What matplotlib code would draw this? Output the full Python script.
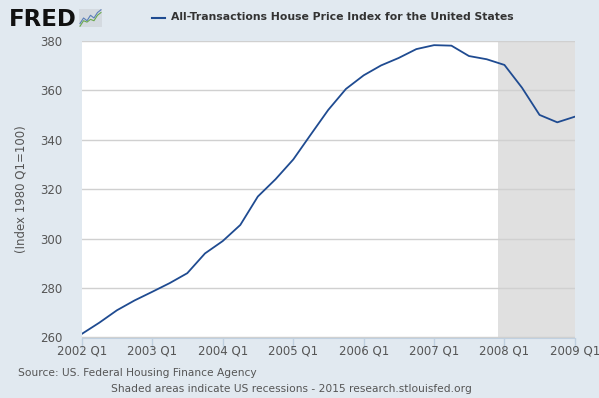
"""FRED-style chart: All-Transactions House Price Index for the United States, 2002-2009."""
import matplotlib

matplotlib.use("Agg")
import matplotlib.pyplot as plt
import pandas as pd

# quarterly index values (1980 Q1 = 100)
quarters = pd.date_range("2002-01-01", "2009-01-01", freq="QS")
hpi = [261.5, 266.0, 271.0, 275.0, 278.5, 282.0, 286.0, 294.0,
       299.0, 305.5, 317.0, 324.0, 332.0, 342.0, 352.0, 360.5,
       366.0, 370.0, 373.0, 376.6, 378.2, 378.0, 373.8, 372.5,
       370.2, 361.0, 350.0, 347.0, 349.3]
recession = ("2007-12-01", "2009-06-01")
y_ticks = [260, 280, 300, 320, 340, 360, 380]
x_years = list(range(2002, 2010))

# little logo sparkline next to the FRED wordmark
icon_blue = [1, 3, 2, 4, 3, 5, 6]
icon_green = [0, 2, 1.5, 2.5, 2, 4, 5]

BG = "#e1e9f0"
LINE = "#1f4b91"
TXT = "#555555"

fig = plt.figure(figsize=(5.99, 3.98), dpi=100, facecolor=BG)
ax = fig.add_axes([82 / 599, 60.5 / 398, 493 / 599, 296.8 / 398])
ax.set_facecolor("white")

ax.axvspan(pd.Timestamp(recession[0]), pd.Timestamp(recession[1]),
           color="#e0e0e0", lw=0, zorder=0)
ax.plot(quarters, hpi, color=LINE, lw=1.3, zorder=3)

ax.set_xlim(pd.Timestamp("2002-01-01"), pd.Timestamp("2009-01-01"))
ax.set_ylim(260, 380)
ax.set_yticks(y_ticks)
ax.yaxis.grid(True, color="#d0d0d0", lw=1.0, zorder=1)
ax.set_xticks([pd.Timestamp(f"{y}-01-01") for y in x_years])
ax.set_xticklabels([f"{y} Q1" for y in x_years])

for s in ("top", "right", "left"):
    ax.spines[s].set_visible(False)
ax.spines["bottom"].set_color("#c0d0e0")
ax.tick_params(axis="y", length=0, pad=14, labelsize=8.5, labelcolor=TXT)
ax.tick_params(axis="x", length=8, width=1, color="#c0d0e0", pad=-3,
               labelsize=8.5, labelcolor=TXT)
ax.set_ylabel("(Index 1980 Q1=100)", fontsize=8.5, color=TXT, labelpad=9)

# header
fig.text(9 / 599, 1 - 19 / 398, "FRED", fontsize=16.5, fontweight="heavy",
         color="#111111", va="center", ha="left")
icon = fig.add_axes([79 / 599, 1 - 27 / 398, 23 / 599, 18 / 398])
icon.set_facecolor("#d4dae0")
icon.plot(icon_blue, color="#5b7fb8", lw=0.8)
icon.plot(icon_green, color="#6aa84f", lw=0.8)
icon.set_xticks([])
icon.set_yticks([])
for s in icon.spines.values():
    s.set_visible(False)

fig.add_artist(plt.Line2D([152 / 599, 165 / 599], [1 - 17.5 / 398] * 2,
                          color=LINE, lw=1.5, transform=fig.transFigure))
fig.text(171 / 599, 1 - 17.5 / 398,
         "All-Transactions House Price Index for the United States",
         fontsize=7.8, fontweight="bold", color="#333333", va="center")

# footer
fig.text(18 / 599, 1 - 372.7 / 398, "Source: US. Federal Housing Finance Agency",
         fontsize=7.7, color=TXT, va="center")
fig.text(291 / 599, 1 - 389.3 / 398,
         "Shaded areas indicate US recessions - 2015 research.stlouisfed.org",
         fontsize=7.7, color=TXT, va="center", ha="center")

fig.savefig("out.png", dpi=100, facecolor=BG)
